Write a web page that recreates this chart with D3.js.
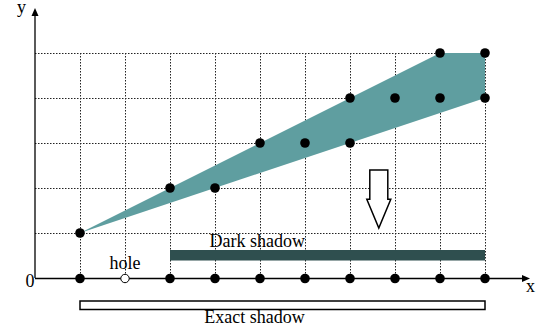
<!DOCTYPE html>
<html><head><meta charset="utf-8">
<script src="https://cdn.jsdelivr.net/npm/d3@7"></script>
<style>body{margin:0;background:#fff}svg{display:block}text{font-family:"Liberation Serif","Times New Roman",serif;fill:#000}</style>
</head><body><svg id="c" width="542" height="335"></svg>
<script>
// data (in grid units)
const gridX = [1,2,3,4,5,6,7,8,9,10];
const gridY = [1,2,3,4,5];
const region = [[1,1],[9,5],[10,5],[10,4]];
const points = [[1,1],[3,2],[4,2],[5,3],[6,3],[7,3],[7,4],[8,4],[9,4],[9,5],[10,5],[10,4]];
const axisDots = [1,3,4,5,6,7,8,9,10];
const holes = [2];
const darkShadow = [3,10];
const exactShadow = [1,10];
const labels = [
  {text:"Dark shadow", x:4.94, y:0.69},
  {text:"Exact shadow", x:4.88, y:-1.0},
  {text:"hole", x:2, y:0.2}
];

const svg = d3.select("#c");
const x = d3.scaleLinear().domain([0,11]).range([35,530]);
const y = d3.scaleLinear().domain([0,6]).range([278,8]);
const FS = 18;

// grid
const g = svg.append("g").attr("stroke","#222").attr("stroke-width",1).attr("stroke-dasharray","1.5,1.5");
g.selectAll(".h").data(gridY).join("line")
 .attr("x1",x(0)).attr("x2",x(10)).attr("y1",d=>y(d)+0.5).attr("y2",d=>y(d)+0.5);
g.selectAll(".v").data(gridX).join("line")
 .attr("x1",d=>x(d)+0.5).attr("x2",d=>x(d)+0.5).attr("y1",y(5)).attr("y2",y(0));

// region
svg.append("path").attr("d",d3.line().x(d=>x(d[0])).y(d=>y(d[1]))(region)+"Z")
 .attr("fill","#5F9EA0");

// axes
svg.append("line").attr("x1",x(0)).attr("x2",x(11)-6).attr("y1",y(0)+0.5).attr("y2",y(0)+0.5).attr("stroke","#000").attr("stroke-width",1.3);
svg.append("line").attr("x1",x(0)).attr("x2",x(0)).attr("y1",y(0)).attr("y2",y(6)+6).attr("stroke","#000").attr("stroke-width",1.3);
svg.append("path").attr("d",`M${x(11)},${y(0)+0.5} l-8,-3.5 l0,7 Z`).attr("fill","#000");
svg.append("path").attr("d",`M${x(0)},${y(6)} l-3.5,8 l7,0 Z`).attr("fill","#000");
svg.append("text").attr("x",x(11)-4).attr("y",y(0)+14).attr("font-size",FS).text("x");
svg.append("text").attr("x",x(0)-18).attr("y",y(6)+5).attr("font-size",FS).text("y");
svg.append("text").attr("x",x(0)-9.5).attr("y",y(0)+9).attr("font-size",FS).text("0");

// shadows
svg.append("rect").attr("x",x(darkShadow[0])).attr("width",x(darkShadow[1])-x(darkShadow[0]))
 .attr("y",250).attr("height",10.5).attr("fill","#2F4F4F");
svg.append("rect").attr("x",x(exactShadow[0])).attr("width",x(exactShadow[1])-x(exactShadow[0]))
 .attr("y",301).attr("height",8.5).attr("fill","#fff").attr("stroke","#000").attr("stroke-width",1.5);

// dots
svg.selectAll(".p").data(points).join("circle").attr("cx",d=>x(d[0])).attr("cy",d=>y(d[1])).attr("r",4.8).attr("fill","#000");
svg.selectAll(".a").data(axisDots).join("circle").attr("cx",d=>x(d)).attr("cy",y(0)+0.5).attr("r",4.8).attr("fill","#000");
svg.selectAll(".o").data(holes).join("circle").attr("cx",d=>x(d)).attr("cy",y(0)+0.5).attr("r",4.2).attr("fill","#fff").attr("stroke","#000").attr("stroke-width",1);

// labels
svg.selectAll(".lab").data(labels).join("text").attr("x",d=>x(d.x)).attr("y",d=>y(d.y))
 .attr("text-anchor","middle").attr("font-size",FS).text(d=>d.text);

// down arrow (block outline)
const ax = x(7.64), aTop = y(2.4), sb = y(1.75), tip = y(1.11);
svg.append("path").attr("d",`M${ax-9},${aTop} L${ax+9},${aTop} L${ax+9},${sb} L${ax+12},${sb} L${ax},${tip} L${ax-12},${sb} L${ax-9},${sb} Z`)
 .attr("fill","#fff").attr("stroke","#000").attr("stroke-width",1.5);
</script></body></html>
